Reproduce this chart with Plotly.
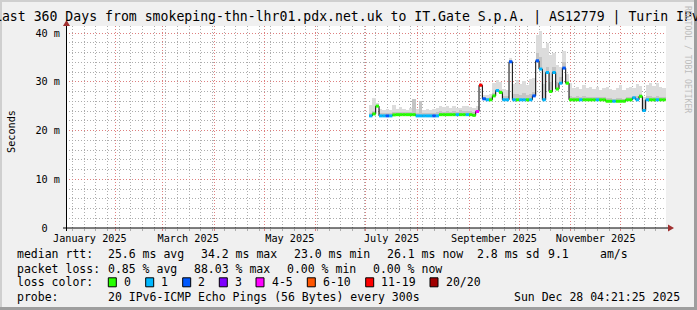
import plotly.graph_objects as go
import pandas as pd

# ---------------- data ----------------
TITLE = "Last 360 Days from smokeping-thn-lhr01.pdx.net.uk to IT.Gate S.p.A. | AS12779 | Turin IPv6"
RANGE_START = "2025-01-02 04:21:25"
RANGE_END = "2025-12-28 04:21:25"

SERIES_START = "2025-07-03"
STEP_DAYS = 2

median_ms = [
    23.0, 23.4, 25.0, 23.0, 23.0, 23.0, 23.0, 23.2, 23.25, 23.25,
    23.25, 23.25, 23.25, 23.25, 23.0, 23.0, 23.0, 23.0, 23.0, 23.0,
    23.0, 23.25, 23.25, 23.25, 23.25, 23.25, 23.25, 23.25, 23.25, 23.25,
    23.25, 23.1, 23.9, 29.3, 26.5, 26.3, 26.3, 27.1, 28.2, 27.8,
    26.3, 26.3, 34.1, 26.3, 26.3, 26.3, 26.3, 26.3, 26.3, 27.1,
    34.3, 32.6, 26.3, 31.9, 28.0, 31.9, 28.5, 29.7, 32.8, 29.7,
    26.3, 26.3, 26.3, 26.3, 26.3, 26.3, 26.3, 26.3, 26.3, 26.3,
    26.3, 26.0, 26.0, 26.0, 26.0, 26.0, 26.0, 26.3, 26.3, 26.7,
    26.3, 27.0, 24.1, 26.3, 26.3, 26.3, 26.3, 26.3, 26.3,
]
loss_pings = [
    1, 0, 0, 1, 1, 2, 1, 0, 0, 0,
    0, 0, 0, 0, 1, 1, 1, 1, 1, 2,
    1, 0, 0, 0, 0, 0, 1, 0, 0, 1,
    0, 0, 4, 11, 2, 1, 0, 0, 1, 0,
    1, 1, 2, 1, 0, 1, 1, 0, 1, 2,
    2, 1, 1, 1, 0, 1, 0, 1, 2, 0,
    0, 0, 0, 1, 0, 0, 0, 0, 1, 0,
    0, 0, 0, 1, 0, 0, 0, 0, 0, 1,
    1, 0, 1, 1, 0, 0, 1, 0, 0,
]
smoke_hi_ms = [
    25.2, 26.6, 25.6, 24.4, 24.2, 24.4, 24.3, 25.2, 24.4, 24.8,
    24.5, 24.3, 24.6, 26.5, 24.4, 26.1, 24.3, 24.5, 24.3, 24.4,
    24.6, 25.0, 24.8, 25.0, 24.6, 25.1, 24.7, 24.6, 25.0, 25.1,
    24.9, 24.6, 25.0, 29.5, 27.3, 27.2, 27.4, 29.7, 30.4, 30.0,
    28.6, 28.3, 34.8, 29.5, 30.4, 29.6, 30.2, 29.4, 30.5, 30.8,
    39.6, 40.5, 37.0, 38.0, 35.5, 36.0, 33.5, 33.0, 36.3, 31.5,
    29.7, 28.8, 29.0, 28.6, 29.3, 28.7, 28.9, 28.5, 29.0, 28.4,
    28.8, 29.0, 28.6, 28.3, 28.8, 29.3, 28.4, 28.7, 29.0, 28.8,
    29.5, 29.2, 26.8, 29.3, 29.7, 29.2, 29.8, 28.9, 28.7,
]
smoke_mid_ms = [
    23.6, 24.0, 25.2, 23.6, 23.5, 23.6, 23.5, 23.8, 23.7, 23.8,
    23.7, 23.7, 23.8, 26.4, 23.6, 26.0, 23.6, 23.6, 23.6, 23.6,
    23.7, 23.9, 23.8, 23.9, 23.8, 24.0, 23.8, 24.3, 23.9, 24.0,
    23.9, 23.7, 24.2, 29.0, 26.9, 26.7, 26.8, 27.6, 28.6, 28.3,
    27.0, 27.0, 34.3, 27.4, 27.5, 27.3, 27.6, 27.3, 27.5, 28.0,
    36.0, 35.0, 29.5, 33.0, 30.0, 33.0, 30.0, 31.0, 34.0, 30.2,
    27.0, 26.9, 27.0, 26.9, 27.0, 26.9, 26.9, 26.8, 26.9, 26.8,
    26.9, 26.6, 26.6, 26.5, 26.6, 26.7, 26.5, 26.8, 26.9, 27.0,
    27.0, 27.4, 26.2, 27.0, 27.1, 26.9, 27.1, 26.9, 26.9,
]

LOSS_LABELS = ["0", "1", "2", "3", "4-5", "6-10", "11-19", "20/20"]
LOSS_UPPER = [0, 1, 2, 3, 5, 10, 19, 20]

MONTH_LABEL_DATES = ["2025-01-16 12:00", "2025-03-16 12:00", "2025-05-16 12:00",
                     "2025-07-16 12:00", "2025-09-16 00:00", "2025-11-16 00:00"]
MONTH_LABELS = ["January 2025", "March 2025", "May 2025",
                "July 2025", "September 2025", "November 2025"]
Y_TICKVALS = [0, 10, 20, 30, 40]
Y_TICKTEXT = ["0\u00a0\u00a0", "10 m", "20 m", "30 m", "40 m"]

RTT_STATS = ["25.6 ms avg", "34.2 ms max", "23.0 ms min", "26.1 ms now", "2.8 ms sd", "9.1", "am/s"]
LOSS_STATS = ["0.85 % avg", "88.03 % max", "0.00 % min", "0.00 % now"]
PROBE_TEXT = "20 IPv6-ICMP Echo Pings (56 Bytes) every 300s"
STAMP = "Sun Dec 28 04:21:25 2025"
ROW_LABELS = ["median rtt:", "packet loss:", "loss color:", "probe:"]

# ---------------- style / layout ----------------
W, H = 697, 310
PL, PR, PT, PB = 66, 666, 26, 228       # plot area in pixels
PX_PER_MS = 4.875
MONO = "DejaVu Sans Mono"
LOSS_COLORS = ["#26ff00", "#00b8ff", "#0059ff", "#7e00ff", "#ff00ff", "#ff5500", "#ff0000", "#a10000"]
SMOKE_LIGHT = "#DCDCDC"
SMOKE_MID = "#C4C4C4"
GRID = "#ADADAD"
MGRID = "#DE8080"
GRID_DASH = "1px,2px"
ARROW = "#A03030"
BACK = "#F0F0F0"
LEG_SIZE = 11.5
AX_SIZE = 10.2

RTT_X = [106.8, 199.5, 292.8, 386.2, 475.5, 546.8, 598.8]
LOSS_X = [106.8, 192.8, 286.2, 372.2]
BOX_X = [108.3, 145.7, 182.7, 219.3, 256.0, 307.3, 365.7, 430.0]
ROW_Y = [254.5, 268.5, 282.3, 296.5]
LEFT_X = 15.5


def px(x):
    return (x - PL) / (PR - PL)


def py(y):
    return (PB - y) / (PB - PT)


fig = go.Figure()

t0 = pd.Timestamp(SERIES_START)
step = pd.Timedelta(days=STEP_DAYS)
n = len(median_ms)
starts = [t0 + step * i for i in range(n)]
ends = [s + step for s in starts]
centers = [s + step / 2 for s in starts]
fmt = "%Y-%m-%d %H:%M:%S"
step_ms = STEP_DAYS * 86400000

# smoke (light band then darker band)
fig.add_trace(go.Bar(
    x=[c.strftime(fmt) for c in centers],
    y=[h - m for h, m in zip(smoke_hi_ms, median_ms)],
    base=median_ms, width=step_ms,
    marker=dict(color=SMOKE_LIGHT, line=dict(width=0)), hoverinfo="skip"))
fig.add_trace(go.Bar(
    x=[c.strftime(fmt) for c in centers],
    y=[h - m for h, m in zip(smoke_mid_ms, median_ms)],
    base=median_ms, width=step_ms,
    marker=dict(color=SMOKE_MID, line=dict(width=0)), hoverinfo="skip"))

# median black step line
fig.add_trace(go.Scatter(
    x=[s.strftime(fmt) for s in starts] + [ends[-1].strftime(fmt)],
    y=median_ms + [median_ms[-1]],
    mode="lines", line=dict(color="#000000", width=1, shape="hv"), hoverinfo="skip"))


def loss_class(v):
    for k, up in enumerate(LOSS_UPPER):
        if v <= up:
            return k
    return len(LOSS_UPPER) - 1


for k, col in enumerate(LOSS_COLORS):
    xs, ys = [], []
    for s, e, m, l in zip(starts, ends, median_ms, loss_pings):
        if loss_class(l) == k:
            xs += [s.strftime(fmt), e.strftime(fmt), None]
            ys += [m, m, None]
    if xs:
        fig.add_trace(go.Scatter(x=xs, y=ys, mode="lines",
                                 line=dict(color=col, width=3), hoverinfo="skip"))

# invisible trace for month label axis
fig.add_trace(go.Scatter(x=MONTH_LABEL_DATES, y=[None] * len(MONTH_LABEL_DATES),
                         xaxis="x2", mode="markers", hoverinfo="skip"))

ann = []


def text(x, y, s, size=LEG_SIZE, color="#000000", xanchor="left", angle=0):
    ann.append(dict(x=px(x), y=py(y), xref="paper", yref="paper", text=s,
                    showarrow=False, xanchor=xanchor, yanchor="middle",
                    textangle=angle, borderpad=0,
                    font=dict(family=MONO, size=size, color=color)))


# title
text(-6.8, 17.5, TITLE, size=13.18)
# watermark
text(688, 59, "RRDTOOL / TOBI OETIKER", size=8.1, color="#BDBDBD", xanchor="center", angle=90)
# y axis title
text(11, 132, "Seconds", size=AX_SIZE, xanchor="center", angle=-90)

# legend rows
for lab, yy in zip(ROW_LABELS, ROW_Y):
    text(LEFT_X, yy, lab)
for s, xx in zip(RTT_STATS, RTT_X):
    text(xx, ROW_Y[0], s)
for s, xx in zip(LOSS_STATS, LOSS_X):
    text(xx, ROW_Y[1], s)
text(106.8, ROW_Y[3], PROBE_TEXT)
text(512.8, ROW_Y[3], STAMP)

shapes = []
for lab, col, bx in zip(LOSS_LABELS, LOSS_COLORS, BOX_X):
    shapes.append(dict(type="rect", xref="paper", yref="paper",
                       x0=px(bx), x1=px(bx + 8), y0=py(ROW_Y[2] - 4.5), y1=py(ROW_Y[2] + 4.5),
                       fillcolor=col, line=dict(color="#000000", width=1)))
    text(bx + 14.5, ROW_Y[2], lab)

# axis lines and arrows
shapes.append(dict(type="line", xref="paper", yref="paper", x0=px(63), x1=px(669),
                   y0=py(228), y1=py(228), line=dict(color="#000000", width=1)))
shapes.append(dict(type="line", xref="paper", yref="paper", x0=px(66.5), x1=px(66.5),
                   y0=py(231), y1=py(25), line=dict(color="#000000", width=1)))
shapes.append(dict(type="path", xref="paper", yref="paper",
                   path=f"M {px(668)} {py(224.5)} L {px(674)} {py(228)} L {px(668)} {py(231.5)} Z",
                   fillcolor=ARROW, line=dict(width=0)))
shapes.append(dict(type="path", xref="paper", yref="paper",
                   path=f"M {px(63)} {py(26)} L {px(66.5)} {py(20)} L {px(70)} {py(26)} Z",
                   fillcolor=ARROW, line=dict(width=0)))
# frame shading
for (x0, y0, x1, y1, c) in [(0, 0, W, 2, "#CFCFCF"), (0, 0, 2, H, "#CFCFCF"),
                            (0, H - 3, W, H, "#9E9E9E"), (W - 3, 0, W, H, "#9E9E9E")]:
    shapes.append(dict(type="rect", xref="paper", yref="paper", x0=px(x0), x1=px(x1),
                       y0=py(y1), y1=py(y0), fillcolor=c, line=dict(width=0), layer="above"))

fig.update_layout(
    width=W, height=H, autosize=False,
    margin=dict(l=PL, r=W - PR, t=PT, b=H - PB, pad=0),
    paper_bgcolor=BACK, plot_bgcolor="#FFFFFF",
    showlegend=False, barmode="overlay", bargap=0,
    annotations=ann, shapes=shapes,
    xaxis=dict(type="date", range=[RANGE_START, RANGE_END], fixedrange=True,
               showgrid=True, gridcolor=MGRID, griddash=GRID_DASH, gridwidth=1,
               tickmode="linear", dtick="M1", tick0="2025-01-01", showticklabels=False,
               ticks="outside", ticklen=2, tickcolor=MGRID,
               showline=False, zeroline=False,
               minor=dict(tickmode="linear", dtick=7 * 86400000, tick0="2025-01-06", showgrid=True,
                          gridcolor=GRID, griddash=GRID_DASH, gridwidth=1,
                          ticks="outside", ticklen=2, tickcolor=GRID)),
    xaxis2=dict(type="date", overlaying="x", anchor="y", side="bottom",
                range=[RANGE_START, RANGE_END], fixedrange=True,
                tickmode="array", tickvals=MONTH_LABEL_DATES, ticktext=MONTH_LABELS,
                showgrid=False, ticks="", showline=False, zeroline=False,
                ticklabelstandoff=3,
                tickfont=dict(family=MONO, size=AX_SIZE, color="#000000")),
    yaxis=dict(range=[0, (PB - PT) / PX_PER_MS], fixedrange=True,
               tickmode="array", tickvals=Y_TICKVALS, ticktext=Y_TICKTEXT,
               showgrid=True, gridcolor=MGRID, griddash=GRID_DASH, gridwidth=1,
               showline=False, zeroline=False, ticks="", ticklabelstandoff=5,
               tickfont=dict(family=MONO, size=AX_SIZE, color="#000000"),
               minor=dict(tickmode="linear", tick0=0, dtick=2, showgrid=True,
                          gridcolor=GRID, griddash=GRID_DASH, gridwidth=1)),
)

fig.write_html("out.html")
